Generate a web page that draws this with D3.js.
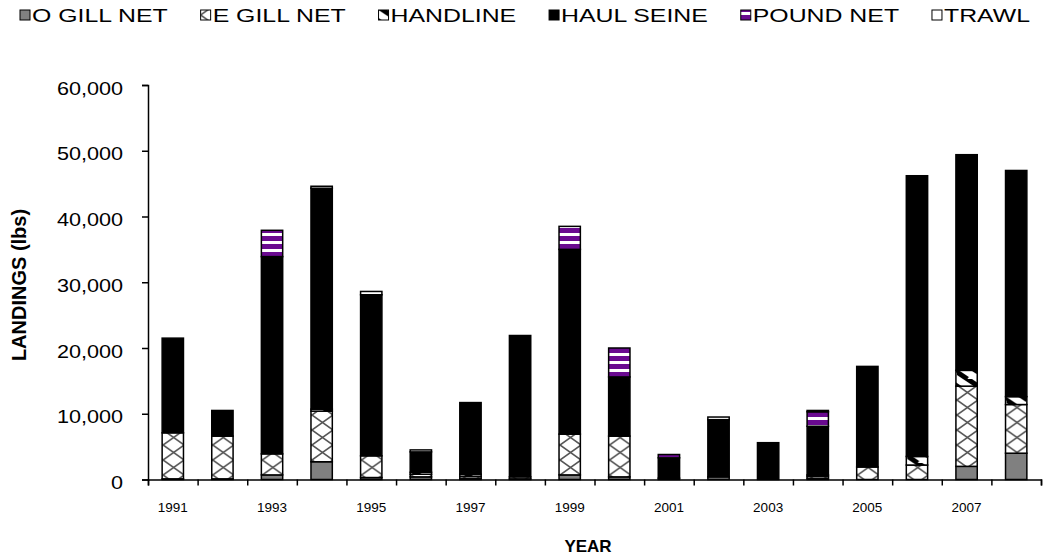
<!DOCTYPE html>
<html>
<head>
<meta charset="utf-8">
<script src="https://cdn.jsdelivr.net/npm/d3@7"></script>
<style>
  body { margin: 0; background: #fff; }
  text { font-family: "Liberation Sans", Arial, sans-serif; fill: #000; }
</style>
</head>
<body>
<script>
// Chart data (landings in lbs by gear type)
var years = [1991, 1992, 1993, 1994, 1995, 1996, 1997, 1998, 1999, 2000, 2001, 2002, 2003, 2004, 2005, 2006, 2007, 2008];
var gears = ["O GILL NET", "E GILL NET", "HANDLINE", "HAUL SEINE", "POUND NET", "TRAWL"];
var oGillNet  = [100, 100, 700, 2700, 300, 400, 200, 100, 700, 400, 200, 400, 0, 200, 0, 0, 2000, 4000];
var eGillNet  = [7000, 6500, 3200, 7700, 3300, 400, 300, 300, 6200, 6200, 0, 0, 0, 300, 1900, 2200, 12200, 7400];
var handline  = [0, 0, 0, 300, 0, 300, 300, 0, 0, 0, 0, 0, 0, 200, 0, 1300, 2400, 1200];
var haulSeine = [14400, 3900, 30000, 33600, 24500, 3100, 10900, 21500, 28100, 9000, 3100, 8700, 5600, 7400, 15300, 42700, 32800, 34400];
var poundNet  = [0, 0, 4000, 0, 0, 0, 0, 0, 3500, 4400, 500, 400, 0, 2200, 0, 0, 0, 0];
var trawl     = [0, 0, 0, 300, 500, 300, 0, 0, 0, 0, 0, 0, 0, 200, 0, 0, 0, 0];
var yTicks = [0, 10000, 20000, 30000, 40000, 50000, 60000];
var yearLabels = [1991, 1993, 1995, 1997, 1999, 2001, 2003, 2005, 2007];

var svgWidth = 1050;
var svgHeight = 559;
var margin = { top: 85, right: 9, bottom: 79.5, left: 148 };
var width = svgWidth - margin.left - margin.right;
var height = svgHeight - margin.top - margin.bottom;

var svg = d3.select("body").append("svg")
  .attr("width", svgWidth)
  .attr("height", svgHeight);

// the original chart text looks stretched sideways, so widen glyphs a bit
function stretch(sel, k) {
  sel.each(function() {
    var w = this.getComputedTextLength();
    d3.select(this).attr("textLength", w * k).attr("lengthAdjust", "spacingAndGlyphs");
  });
}

var x = d3.scaleBand()
  .domain(years)
  .range([0, width])
  .paddingInner(0.57)
  .paddingOuter(0.285);

var y = d3.scaleLinear()
  .domain([0, 60000])
  .range([height, 0]);

// fill patterns, one per bar so the cross-hatch lines up with each bar
var defs = svg.append("defs");

function addEgill(id, x0) {
  var p = defs.append("pattern").attr("id", id)
    .attr("patternUnits", "userSpaceOnUse")
    .attr("x", x0).attr("y", 0)
    .attr("width", 21).attr("height", 15);
  p.append("rect").attr("width", 21).attr("height", 15).attr("fill", "#fff");
  p.append("path").attr("d", "M0,0L21,15M21,0L0,15")
    .attr("stroke", "#555").attr("stroke-width", 1.6);
}

function addHand(id, x0) {
  var p = defs.append("pattern").attr("id", id)
    .attr("patternUnits", "userSpaceOnUse")
    .attr("x", x0).attr("y", 0)
    .attr("width", 21).attr("height", 14);
  p.append("rect").attr("width", 21).attr("height", 14).attr("fill", "#fff");
  p.append("path").attr("d", "M-10.5,0L10.5,14M0,-7L21,7M10.5,-14L31.5,0M-10.5,14L0,21")
    .attr("stroke", "#000").attr("stroke-width", 5);
}

years.forEach(function(yr, i) {
  addEgill("pEgill" + i, margin.left + x(yr));
  addHand("pHand" + i, margin.left + x(yr));
});
addEgill("pEgillLeg", 0);
addHand("pHandLeg", 0);

var pn = defs.append("pattern").attr("id", "pPound")
  .attr("patternUnits", "userSpaceOnUse").attr("width", 8).attr("height", 8);
pn.append("rect").attr("width", 8).attr("height", 8).attr("fill", "#6a0a90");
pn.append("rect").attr("y", 4).attr("width", 8).attr("height", 3).attr("fill", "#fff");

var fills = [
  () => "#808080",
  i => "url(#pEgill" + i + ")",
  i => "url(#pHand" + i + ")",
  () => "#000",
  () => "url(#pPound)",
  () => "#fff"
];
var legendFills = ["#808080", "url(#pEgillLeg)", "url(#pHandLeg)", "#000", "url(#pPound)", "#fff"];

// stack the series
var table = years.map(function(yr, i) {
  return {
    idx: i,
    year: yr,
    "O GILL NET": oGillNet[i],
    "E GILL NET": eGillNet[i],
    "HANDLINE": handline[i],
    "HAUL SEINE": haulSeine[i],
    "POUND NET": poundNet[i],
    "TRAWL": trawl[i]
  };
});
var series = d3.stack().keys(gears)(table);

var chartGroup = svg.append("g")
  .attr("transform", `translate(${margin.left}, ${margin.top})`);

// bars
chartGroup.selectAll("g.layer")
  .data(series)
  .enter()
  .append("g")
  .attr("class", "layer")
  .each(function(s, k) {
    d3.select(this).selectAll("rect")
      .data(s.filter(v => v[1] - v[0] > 0))
      .enter()
      .append("rect")
      .attr("x", d => x(d.data.year))
      .attr("y", d => y(d[1]))
      .attr("width", x.bandwidth())
      .attr("height", d => y(d[0]) - y(d[1]))
      .attr("fill", d => fills[k](d.data.idx))
      .attr("stroke", "#000")
      .attr("stroke-width", 1.5);
  });

// y axis
var leftAxis = d3.axisLeft(y)
  .tickValues(yTicks)
  .tickFormat(d3.format(","))
  .tickSizeOuter(0)
  .tickSize(6)
  .tickPadding(19);

var yAxisG = chartGroup.append("g").call(leftAxis);
yAxisG.select(".domain").attr("stroke", "#000").attr("stroke-width", 1.5);
yAxisG.selectAll(".tick line").attr("stroke", "#000").attr("stroke-width", 1.5);
yAxisG.selectAll(".tick text")
  .style("font-family", "Liberation Sans, Arial, sans-serif")
  .style("font-size", "18px")
  .attr("dy", "0.5em")
  .call(stretch, 1.2);

// x axis: ticks between categories
var xb = d3.scaleLinear().domain([0, years.length]).range([0, width]);
var bottomAxis = d3.axisBottom(xb)
  .tickValues(d3.range(0, years.length + 1))
  .tickFormat("")
  .tickSizeOuter(0)
  .tickSize(6);
var xAxisG = chartGroup.append("g")
  .attr("transform", `translate(0, ${height})`)
  .call(bottomAxis);
xAxisG.select(".domain").attr("stroke", "#000").attr("stroke-width", 1.5);
xAxisG.selectAll(".tick line").attr("stroke", "#000").attr("stroke-width", 1.5);

// year labels
chartGroup.selectAll("text.year")
  .data(yearLabels)
  .enter()
  .append("text")
  .attr("class", "year")
  .attr("x", d => x(d) + x.bandwidth() / 2)
  .attr("y", height + 32)
  .attr("text-anchor", "middle")
  .style("font-size", "13.5px")
  .text(d => d);

// axis titles
svg.append("text")
  .attr("text-anchor", "middle")
  .attr("x", 588)
  .attr("y", 552)
  .style("font-size", "17px")
  .style("font-weight", "bold")
  .text("YEAR");

svg.append("text")
  .attr("text-anchor", "middle")
  .attr("transform", `translate(26, 285)rotate(-90)`)
  .style("font-size", "20px")
  .style("font-weight", "bold")
  .text("LANDINGS (lbs)");

// legend: laid out in one row from x=20 to x=1030 with even gaps
var legend = svg.append("g");
var items = gears.map(function(g, i) {
  var grp = legend.append("g");
  grp.append("rect")
    .attr("x", 0)
    .attr("y", 10)
    .attr("width", 10)
    .attr("height", 10)
    .attr("fill", legendFills[i])
    .attr("stroke", "#000")
    .attr("stroke-width", 1);
  var t = grp.append("text")
    .attr("x", 12)
    .attr("y", 22)
    .style("font-size", "18px")
    .text(g)
    .call(stretch, 1.38);
  return { g: grp, w: 12 + (+t.attr("textLength")) };
});
var totalW = d3.sum(items, d => d.w);
var gap = (1030 - 20 - totalW) / (items.length - 1);
var lx = 20;
items.forEach(function(it) {
  it.g.attr("transform", `translate(${lx}, 0)`);
  lx += it.w + gap;
});
</script>
</body>
</html>
